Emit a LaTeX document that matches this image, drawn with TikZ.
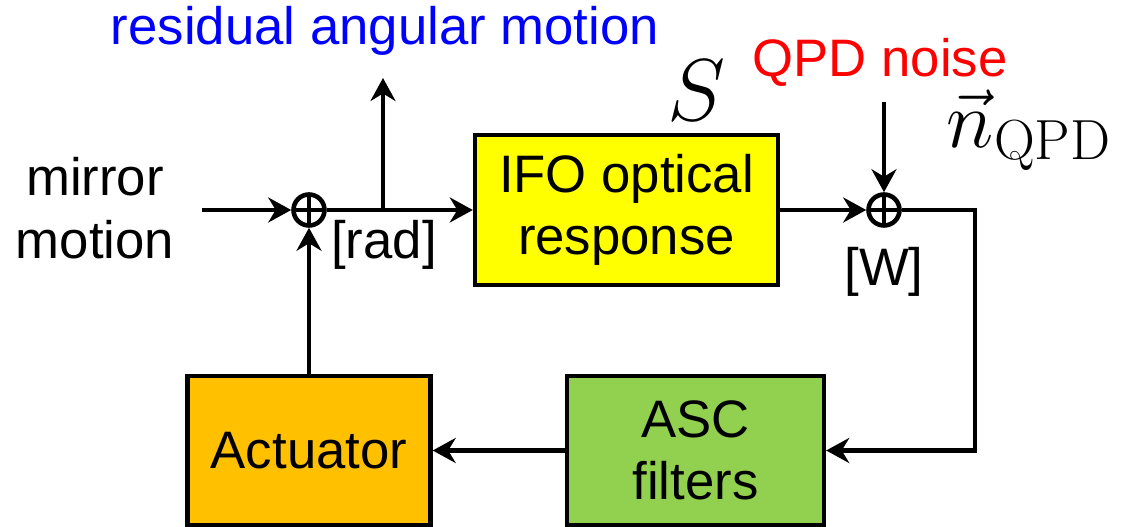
\RequirePackage{fix-cm}
\documentclass[tikz,border=0pt]{standalone}
\usepackage[no-math]{fontspec}
\setmainfont{Liberation Sans}
\usetikzlibrary{arrows.meta}

\definecolor{ifogelb}{HTML}{FFFF00}
\definecolor{aktorange}{HTML}{FFC000}
\definecolor{ascgruen}{HTML}{92D050}

\tikzset{
  block/.style={draw, line width=2.5pt, minimum height=2.98cm, align=center,
    font=\fontsize{30}{35}\selectfont},
  sig/.style={line width=2.3pt, -{Stealth[length=0.46cm, width=0.5cm, inset=0.15cm]}},
  summe/.style={draw, circle, line width=2.6pt, minimum size=0.62cm, inner sep=0pt,
    path picture={\draw[line width=1.8pt] (path picture bounding box.north) -- (path picture bounding box.south)
      (path picture bounding box.west) -- (path picture bounding box.east);}},
  txt/.style={align=center, font=\fontsize{30}{36}\selectfont}
}

\begin{document}
\begin{tikzpicture}
    \useasboundingbox (0,0) rectangle (22.48,10.54);

    % Bloecke
    \node[block, fill=ifogelb, minimum width=6.06cm, minimum height=3cm] (ifo) at (12.53,6.34) {IFO optical\\response};
    \node[block, fill=ascgruen, minimum width=5.14cm] (asc) at (13.91,1.53) {ASC\\filters};
    \node[block, fill=aktorange, minimum width=4.86cm] (akt) at (6.18,1.53) {Actuator};

    % Summierstellen
    \node[summe] (sum1) at (6.18,6.34) {};
    \node[summe] (sum2) at (17.68,6.34) {};

    % Hilfspunkte
    \coordinate (ein) at (4.04,6.34);
    \coordinate (abzw) at (7.66,6.34);
    \coordinate (resid) at (7.66,8.98);
    \coordinate (rausch) at (17.68,8.5);
    \coordinate (ecke) at (19.5,6.34);

    % Signalwege
    \draw[sig] (ein) -- (sum1.west);
    \draw[sig] (sum1.east) -- (ifo.west);
    \draw[sig] (abzw) -- (resid);
    \draw[sig] (ifo.east) -- (sum2.west);
    \draw[sig] (rausch) -- (sum2.north);
    \draw[sig] (sum2.east) -- (ecke) |- (asc.east);
    \draw[sig] (asc.west) -- (akt.east);
    \draw[sig] (akt.north) -- (sum1.south);

    % Beschriftungen
    \node[txt] (spiegel) at (1.9,6.38) {mirror\\motion};
    \node[txt] (rad) at (7.68,5.64) {[rad]};
    \node[txt] (watt) at (17.68,5.1) {[W]};
    \node[txt, text=blue] (restbew) at (7.7,9.92) {residual angular motion};
    \node[txt, text=red] (qpdrausch) at (17.6,9.3) {QPD noise};
    \node[font=\fontsize{50}{52}\selectfont] (s) at (13.94,8.74) {$S$};
    \node[font=\fontsize{46}{48}\selectfont] (nqpd) at (20.58,7.94) {$\vec{n}_{\mathrm{QPD}}$};

\end{tikzpicture}
\end{document}
